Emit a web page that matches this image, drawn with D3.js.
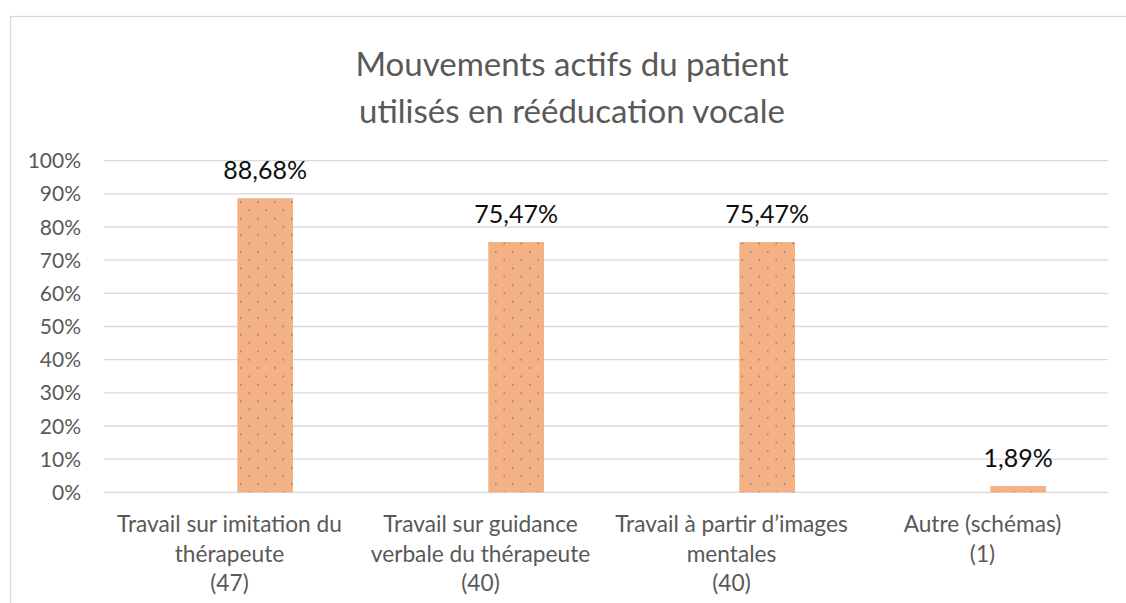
<!DOCTYPE html>
<html>
<head>
<meta charset="utf-8">
<title>Mouvements actifs du patient</title>
<script src="https://cdn.jsdelivr.net/npm/d3@7"></script>
<style>
  html, body { margin: 0; padding: 0; background: #fff; }
  svg { display: block; font-family: Lato, "Open Sans", sans-serif; }
  .grid line { stroke: #d9d9d9; stroke-width: 1.3px; }
  .ytick { fill: #595959; font-size: 21px; }
  .xlab { fill: #595959; font-size: 22.7px; }
  .val { fill: #0d0d0d; font-size: 25px; }
  .title { fill: #595959; font-size: 33px; }
</style>
</head>
<body>
<svg id="chart" width="1126" height="603"></svg>
<script>
// data
var categories = ["Travail sur imitation du thérapeute", "Travail sur guidance verbale du thérapeute",
                  "Travail à partir d’images mentales", "Autre (schémas)"];
var catLines = [["Travail sur imitation du", "thérapeute"],
                ["Travail sur guidance", "verbale du thérapeute"],
                ["Travail à partir d’images", "mentales"],
                ["Autre (schémas)"]];
var counts = [47, 40, 40, 1];
var values = [0.8868, 0.7547, 0.7547, 0.0189];
var yTicks = [0, 0.1, 0.2, 0.3, 0.4, 0.5, 0.6, 0.7, 0.8, 0.9, 1];
var titleLines = ["Mouvements actifs du patient", "utilisés en rééducation vocale"];

var svg = d3.select("#chart");

// pattern for the dotted bars
var defs = svg.append("defs");
var pat = defs.append("pattern")
  .attr("id", "dots")
  .attr("patternUnits", "userSpaceOnUse")
  .attr("width", 17).attr("height", 16.6);
pat.append("rect").attr("width", 17).attr("height", 16.6).attr("fill", "#f4b183");
pat.append("rect").attr("x", 2).attr("y", 2).attr("width", 1.6).attr("height", 1.6).attr("fill", "#7f8590");
pat.append("rect").attr("x", 10.5).attr("y", 10.3).attr("width", 1.6).attr("height", 1.6).attr("fill", "#7f8590");

// chart border (cut off right and bottom)
svg.append("rect")
  .attr("x", 10.5).attr("y", 16.5)
  .attr("width", 1200).attr("height", 700)
  .attr("fill", "none").attr("stroke", "#d9d9d9").attr("stroke-width", 1.3);

var x = d3.scaleBand().domain(categories).range([104, 1108]);
var y = d3.scaleLinear().domain([0, 1]).range([492.3, 160.7]);

// title
svg.append("text").attr("class", "title")
  .attr("text-anchor", "middle")
  .selectAll("tspan").data(titleLines).join("tspan")
  .attr("x", 572)
  .attr("y", function(d, i) { return 76 + i * 47; })
  .text(function(d) { return d; });

// gridlines
svg.append("g").attr("class", "grid")
  .selectAll("line").data(yTicks).join("line")
  .attr("x1", x.range()[0]).attr("x2", x.range()[1])
  .attr("y1", function(d) { return y(d); })
  .attr("y2", function(d) { return y(d); });

svg.append("g")
  .selectAll("text").data(yTicks).join("text")
  .attr("class", "ytick")
  .attr("x", 81).attr("y", function(d) { return y(d); })
  .attr("dy", "0.36em")
  .attr("text-anchor", "end")
  .text(d3.format(".0%"));

// bars (offset to the right half of the band, like the excel chart)
var barX = function(c) { return x(c) + x.bandwidth() * 0.531; };
var barW = x.bandwidth() * 0.222;

svg.append("g")
  .selectAll("rect").data(categories).join("rect")
  .attr("x", barX)
  .attr("width", barW)
  .attr("y", function(d, i) { return y(values[i]); })
  .attr("height", function(d, i) { return y(0) - y(values[i]); })
  .attr("fill", "url(#dots)");

svg.append("g")
  .selectAll("text").data(categories).join("text")
  .attr("class", "val")
  .attr("text-anchor", "middle")
  .attr("x", function(d) { return barX(d) + barW / 2; })
  .attr("y", function(d, i) { return y(values[i]) - 19; })
  .text(function(d, i) { return (values[i] * 100).toFixed(2).replace(".", ",") + "%"; });

// category labels
var xl = svg.append("g")
  .selectAll("text").data(categories).join("text")
  .attr("class", "xlab")
  .attr("text-anchor", "middle");
xl.selectAll("tspan")
  .data(function(d, i) { return catLines[i].concat(["(" + counts[i] + ")"]); })
  .join("tspan")
  .attr("x", function() { var c = d3.select(this.parentNode).datum(); return x(c) + x.bandwidth() / 2; })
  .attr("y", function(d, i) { return 532 + i * 29.5; })
  .text(function(d) { return d; });
</script>
</body>
</html>
